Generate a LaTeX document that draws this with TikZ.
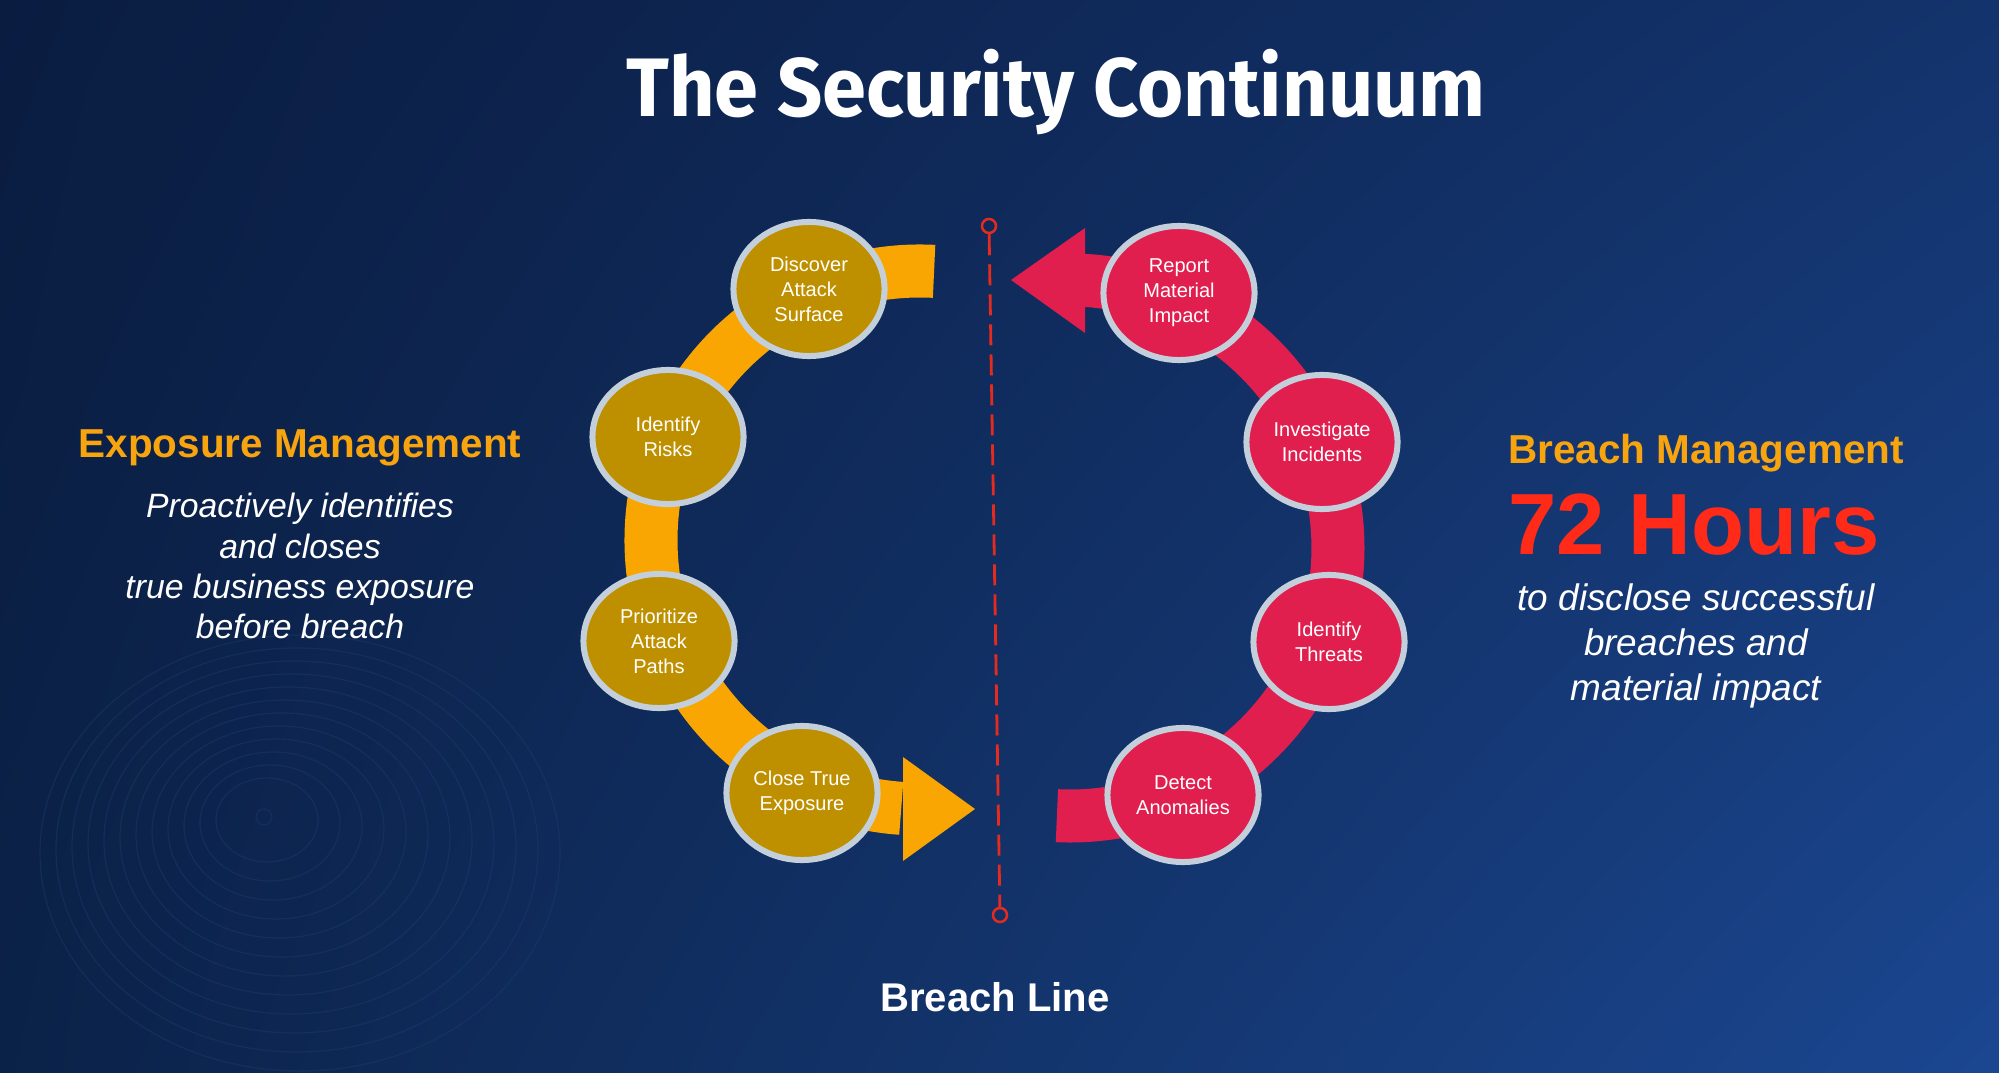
\documentclass[tikz,border=0pt]{standalone}
\usepackage{fontspec}
\setmainfont{Liberation Sans}
\newfontfamily\titlefont{Fira Sans}
\usetikzlibrary{positioning,shapes.geometric,shadings,calc}

\definecolor{bgTL}{HTML}{0A1C40}
\definecolor{bgTR}{HTML}{13336C}
\definecolor{bgBL}{HTML}{0B2248}
\definecolor{bgBR}{HTML}{1B4791}
\definecolor{contour}{HTML}{1A3C70}
\definecolor{gold}{HTML}{BE9000}
\definecolor{rim}{HTML}{C3D0DC}
\definecolor{amber}{HTML}{F9A602}
\definecolor{crimson}{HTML}{E11F4F}
\definecolor{lineRed}{HTML}{E62B1E}
\definecolor{headOrange}{HTML}{F7A40F}
\definecolor{hoursRed}{HTML}{FF2A17}

\begin{document}
\begin{tikzpicture}[x=0.01cm,y=-0.01cm,
  stage/.style={ellipse,draw=rim,line width=0.06cm,minimum width=1.51cm,
    minimum height=1.34cm,inner sep=0pt,align=center,text=white,
    font=\fontsize{5.7pt}{7.1pt}\selectfont},
  expo/.style={stage,fill=gold},
  brch/.style={stage,fill=crimson},
  band/.style={line width=0.53cm},
  head/.style={text=headOrange,inner sep=0pt,anchor=base,
    font=\bfseries\fontsize{11.5pt}{13pt}\selectfont},
  blurb/.style={text=white,inner sep=0pt,align=center}]

  % background
  \shade[upper left=bgTL,upper right=bgTR,lower left=bgBL,lower right=bgBR]
    (0,0) rectangle (1999,1073);
  \useasboundingbox (0,0) rectangle (1999,1073);
  \draw[contour,line width=0.012cm,opacity=0.45] (264,817) circle (8);
  \foreach \k in {1,...,12}
    \draw[contour,line width=0.012cm,opacity=0.45] (264+3*\k,817+3*\k) ellipse ({32+19*\k} and {26+16*\k});

  \node[text=white,inner sep=0pt,anchor=base,font=\titlefont\bfseries\fontsize{23.6pt}{28pt}\selectfont]
    (title) at (1056,117) {\scalebox{0.955}[1]{The Security Continuum}};

  % exposure side
  \coordinate (lc) at (920,540);
  \draw[band,amber] (lc) ++(273:269) arc[start angle=273,end angle=94,radius=269];
  \fill[amber] (903,757) -- (975,809) -- (903,861) -- cycle;

  % breach side
  \coordinate (rc) at (1070,548);
  \draw[band,crimson] (rc) ++(92.8:268) arc[start angle=92.8,end angle=-93.2,radius=268];
  \fill[crimson] (1085,228) -- (1011,280) -- (1085,333) -- cycle;

  % breach line
  \node[circle,draw=lineRed,line width=0.025cm,minimum size=0.14cm,inner sep=0pt] (btop) at (989,226) {};
  \node[circle,draw=lineRed,line width=0.025cm,minimum size=0.14cm,inner sep=0pt] (bbot) at (1000,915) {};
  \draw[lineRed,line width=0.028cm,dash pattern=on 0.21cm off 0.09cm] (btop) -- (bbot);
  \node[text=white,inner sep=0pt,anchor=base,font=\bfseries\fontsize{11.4pt}{13pt}\selectfont]
    (bline) at (995,1011) {Breach Line};

  \node[expo] (disc) at (809,289) {Discover\\Attack\\Surface};
  \node[expo] (risks) at (668,437) {Identify\\Risks};
  \node[expo] (prio) at (659,641) {Prioritize\\Attack\\Paths};
  \node[expo] (close) at (802,793) {Close True\\Exposure};

  \node[brch] (report) at (1179,293) {Report\\Material\\Impact};
  \node[brch] (invest) at (1322,442) {Investigate\\Incidents};
  \node[brch] (threats) at (1329,642) {Identify\\Threats};
  \node[brch] (detect) at (1183,795) {Detect\\Anomalies};

  % side texts
  \node[head] (expohead) at (300,458) {Exposure Management};
  \node[blurb,font=\itshape\fontsize{9.6pt}{11.4pt}\selectfont] (expotext) at (300,566)
    {Proactively identifies\\and closes\\true business exposure\\before breach};

  \node[head] (brchhead) at (1706,463) {Breach Management};
  \node[text=hoursRed,inner sep=0pt,font=\bfseries\fontsize{24.7pt}{28pt}\selectfont]
    (hours) at (1694,525) {72 Hours};
  \node[blurb,font=\itshape\fontsize{10.5pt}{12.8pt}\selectfont] (brchtext) at (1696,646)
    {to disclose successful\\breaches and\\material impact};
\end{tikzpicture}
\end{document}
